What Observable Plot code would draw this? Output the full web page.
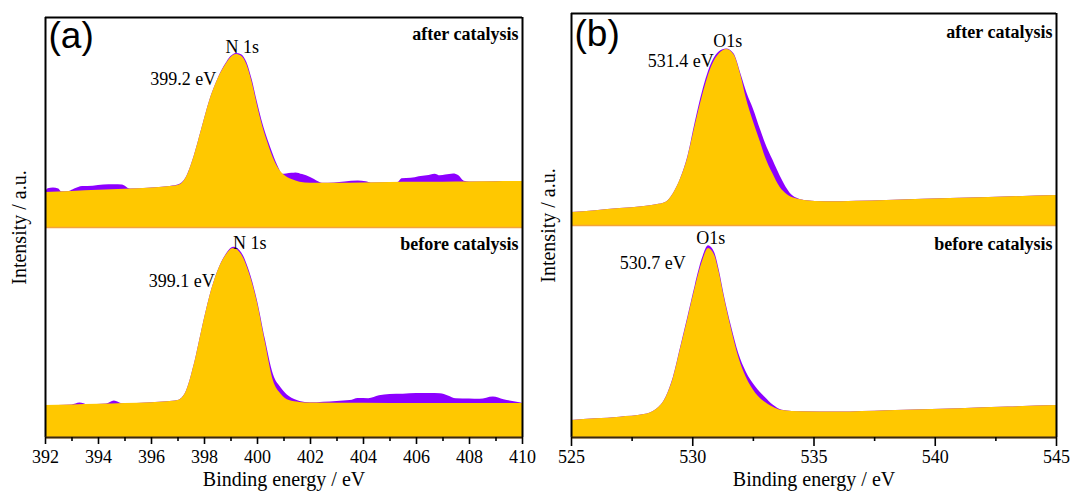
<!DOCTYPE html>
<html>
<head>
<meta charset="utf-8">
<script src="https://cdn.jsdelivr.net/npm/d3@7"></script>
<script src="https://cdn.jsdelivr.net/npm/@observablehq/plot@0.6"></script>
<style>
  body { margin: 0; background: #fff; }
  #wrap { position: relative; width: 1072px; height: 494px; overflow: hidden; background: #fff; }
  #pa, #pb { position: absolute; top: 0; }
  #pa { left: 0; }
  #pb { left: 536px; }
</style>
</head>
<body>
<div id="wrap"><div id="pa"></div><div id="pb"></div></div>
<script>
// ---------- data (binding energy eV, intensity a.u.) ----------
const panels = ["after", "before"];

const n1sTicks = [392, 394, 396, 398, 400, 402, 404, 406, 408, 410];
const n1sMinorTicks = [393, 395, 397, 399, 401, 403, 405, 407, 409];
const o1sTicks = [525, 530, 535, 540, 545];
const o1sMinorTicks = [527.5, 532.5, 537.5, 542.5];

const n1sLevel = "N 1s";
const o1sLevel = "O1s";
const n1sPeakEnergies = [399.2, 399.1];
const n1sPeakLabels = ["399.2 eV", "399.1 eV"];
const o1sPeakEnergies = [531.4, 530.7];
const o1sPeakLabels = ["531.4 eV", "530.7 eV"];

// N 1s, after catalysis
const n1sAfterRaw = [[392,16.7],[392.1,18.4],[392.3,18.8],[392.5,18.3],[392.6,17.0],[392.9,17.2],[393.1,18.3],[393.4,19.5],[393.8,19.7],[394.2,20.2],[394.6,20.3],[394.9,20.2],[395.2,18.3],[396,18.8],[396.6,19.4],[397,20.2],[397.3,23.6],[397.6,33.5],[397.9,47],[398.2,60.5],[398.5,70.5],[398.8,77.8],[399.0,81.4],[399.2,82.9],[399.4,82.3],[399.6,78.6],[399.8,70.3],[400.0,59.5],[400.2,49.5],[400.4,41.5],[400.6,34.5],[400.8,28.5],[400.95,25.4],[401.1,25.5],[401.3,25.8],[401.45,26.0],[401.7,25.2],[402.0,23.8],[402.3,21.8],[402.45,21.1],[402.9,21.2],[403.3,21.7],[403.8,22.1],[404.1,21.8],[404.3,21.2],[405.3,21.4],[405.45,23.2],[405.8,23.4],[406.1,24.2],[406.4,24.6],[406.7,25.4],[406.9,24.6],[407.1,25.0],[407.4,25.5],[407.6,24.6],[407.8,22.0],[408,21.7],[409,21.8],[410,21.9]];
const n1sAfterFit = [[392,16.7],[393,17.2],[394,17.7],[395,18.2],[396,18.8],[396.6,19.4],[397,20],[397.3,23.5],[397.6,33.5],[397.9,47],[398.2,60.5],[398.5,70.5],[398.8,77.5],[399.0,81],[399.2,82.4],[399.4,81.5],[399.6,77.5],[399.8,69],[400.0,58],[400.2,48],[400.4,40],[400.6,33],[400.8,28],[401.0,25],[401.3,22.8],[401.6,21.6],[402,21.1],[403,21.1],[404,21.2],[405,21.4],[406,21.5],[407,21.6],[408,21.7],[409,21.8],[410,21.9]];

// N 1s, before catalysis
const n1sBeforeRaw = [[392,15.2],[393.0,15.5],[393.3,16.4],[393.6,15.6],[394.3,15.9],[394.6,17.4],[394.9,16.1],[396,16.6],[396.6,17],[397,17.6],[397.3,21.5],[397.6,34],[397.9,51],[398.2,67],[398.5,79],[398.8,86.8],[399.1,90.6],[399.4,88],[399.7,79],[400.0,65],[400.3,46.5],[400.6,30],[400.9,23.5],[401.2,19.5],[401.6,17.2],[402,16.5],[402.5,16.8],[403.0,17.2],[403.5,17.6],[403.8,18.6],[404.2,18.5],[404.6,19.9],[405.0,20.5],[405.5,20.6],[406.0,21],[406.5,20.9],[406.9,20.8],[407.2,19.8],[407.5,18.4],[408.0,18.3],[408.4,18.2],[408.9,19.3],[409.3,18.0],[409.9,16.5],[410,16.2]];
const n1sBeforeFit = [[392,15.2],[393,15.5],[394,15.8],[395,16.2],[396,16.6],[396.6,17],[397,17.6],[397.3,21.5],[397.6,34],[397.9,51],[398.2,67],[398.5,79],[398.8,86.5],[399.1,90],[399.4,87],[399.7,78],[400.0,64],[400.3,45],[400.6,27],[400.9,20.5],[401.2,17.6],[401.6,16.7],[402,16.4],[404,16.3],[406,16.2],[408,16.2],[410,16.2]];

// O 1s, after catalysis
const o1sAfterRaw = [[525,6.1],[526,7.0],[527,8.0],[528,9.0],[528.5,9.8],[528.9,11],[529.2,15],[529.5,22],[529.8,32.5],[530.1,48.5],[530.4,63],[530.8,77],[531.1,82],[531.4,83.3],[531.7,81],[532.0,71],[532.25,62],[532.5,55],[532.8,45],[533.0,38.7],[533.3,31],[533.7,21.2],[534.0,15.5],[534.3,12.8],[534.6,11.8],[535.5,11.2],[538,11.8],[541,12.8],[545,14.2]];
const o1sAfterFit = [[525,6.1],[526,7.0],[527,8.0],[528,9.0],[528.5,9.8],[528.9,11],[529.2,15],[529.5,22],[529.8,32.1],[530.1,47],[530.4,61],[530.8,75.5],[531.1,81],[531.4,83],[531.7,80.5],[532.0,70],[532.2,60.4],[532.5,49],[532.8,39],[533.0,32.1],[533.3,24.5],[533.6,18],[533.9,14.5],[534.2,12.8],[534.6,11.8],[535.5,11.2],[538,11.8],[541,12.8],[545,14.2]];

// O 1s, before catalysis
const o1sBeforeRaw = [[525,8.0],[526,8.8],[527,9.6],[528,10.8],[528.5,13.2],[528.9,19],[529.2,28.3],[529.5,42.5],[529.8,56.8],[530.1,71.5],[530.4,84.5],[530.65,90.5],[530.9,87.3],[531.1,78.5],[531.3,67],[531.6,52.2],[531.9,39.5],[532.2,31],[532.6,23.8],[533.0,18.8],[533.3,15.5],[533.7,12.9],[534.5,12.1],[536,12],[538,12.6],[541,13.6],[543,14.4],[545,15.1]];
const o1sBeforeFit = [[525,8.0],[526,8.8],[527,9.6],[528,10.8],[528.5,13.2],[528.9,18.9],[529.2,28],[529.5,42],[529.8,56],[530.1,70.5],[530.4,83],[530.65,89.2],[530.9,86],[531.1,77.5],[531.3,66],[531.6,51],[531.9,37.7],[532.2,28.5],[532.6,20.8],[533.0,16.5],[533.4,13.8],[533.7,12.7],[534.5,12.1],[536,12],[538,12.6],[541,13.6],[543,14.4],[545,15.1]];

// ---------- styling ----------
const PURPLE = "#8C00FF";
const YELLOW = "#FFC800";
const ORANGE = "#F4A33A";
const SERIF = "'Liberation Serif', 'Times New Roman', serif";
const SANS = "'Liberation Sans', Arial, sans-serif";

function rowsOf(pairs, panel) {
  return pairs.map(([energy, intensity]) => ({panel, energy, intensity}));
}

function drawPanel(cfg) {
  const raw = [...rowsOf(cfg.afterRaw, "after"), ...rowsOf(cfg.beforeRaw, "before")];
  const fit = [...rowsOf(cfg.afterFit, "after"), ...rowsOf(cfg.beforeFit, "before")];
  const peaks = cfg.peakEnergies.map((energy, i) => ({
    panel: panels[i],
    energy,
    label: cfg.peakLabels[i],
    top: d3.max(i === 0 ? cfg.afterRaw : cfg.beforeRaw, d => d[1])
  }));
  const peakMarks = peaks.flatMap((p, i) => [
    Plot.text([p], {x: "energy", y: "top", fy: "panel", text: () => cfg.level,
      textAnchor: "middle", dx: cfg.levelOffsets[i][0], dy: cfg.levelOffsets[i][1], fontSize: 18}),
    Plot.text([p], {x: "energy", y: "top", fy: "panel", text: "label",
      textAnchor: "end", dx: cfg.valueOffsets[i][0], dy: cfg.valueOffsets[i][1], fontSize: 18})
  ]);
  const [x0, x1] = cfg.domain;
  return Plot.plot({
    width: 536,
    height: 494,
    marginTop: cfg.marginTop,
    marginBottom: 57,
    marginLeft: cfg.marginLeft,
    marginRight: cfg.marginRight,
    style: {fontFamily: SERIF, fontSize: "18px", color: "black", background: "white", overflow: "visible"},
    x: {domain: cfg.domain},
    y: {domain: [0, 100], axis: null},
    fy: {domain: panels, padding: 0, axis: null},
    marks: [
      Plot.areaY(raw, {x: "energy", y: "intensity", fy: "panel", fill: PURPLE, curve: "monotone-x"}),
      Plot.areaY(fit, {x: "energy", y: "intensity", fy: "panel", fill: YELLOW, curve: "monotone-x"}),
      Plot.ruleY(panels, {fy: d => d, y: () => 0, stroke: ORANGE, strokeWidth: 1.5}),
      Plot.ruleX([x0, x1], {stroke: "black", strokeWidth: 2}),
      Plot.ruleY(["after"], {fy: d => d, y: () => 100, stroke: "black", strokeWidth: 2}),
      Plot.ruleY(["before"], {fy: d => d, y: () => 0, stroke: "#3a2a10", strokeWidth: 2}),
      Plot.axisX({ticks: cfg.minorTicks, tickSize: 4, tickFormat: () => "", label: null, strokeWidth: 1.6}),
      Plot.axisX({ticks: cfg.ticks, tickSize: cfg.tickSize, tickPadding: cfg.tickPadding, tickFormat: d => `${d}`,
        label: null, fontSize: 18, strokeWidth: 1.6}),
      Plot.axisX({ticks: [], tickSize: 0, label: "Binding energy / eV", labelAnchor: "center",
        labelArrow: "none", labelOffset: 48, fontSize: 20}),
      Plot.axisFy({anchor: "left", ticks: [], tickSize: 0, label: "Intensity / a.u.", labelAnchor: "center",
        labelOffset: cfg.yLabelOffset, fontSize: 20}),
      Plot.text(panels, {fy: d => d, text: d => `${d} catalysis`, frameAnchor: "top-right", textAnchor: "end",
        lineAnchor: "top", dx: -4, dy: cfg.condDy, fontWeight: "bold", fontSize: 18}),
      Plot.text([cfg.tag], {fy: () => "after", text: d => d, frameAnchor: "top-left", textAnchor: "start",
        lineAnchor: "top", dx: 3, dy: cfg.tagDy, fontFamily: SANS, fontSize: 37}),
      ...peakMarks
    ]
  });
}

document.getElementById("pa").append(drawPanel({
  afterRaw: n1sAfterRaw, afterFit: n1sAfterFit, beforeRaw: n1sBeforeRaw, beforeFit: n1sBeforeFit,
  domain: [392, 410], ticks: n1sTicks, minorTicks: n1sMinorTicks,
  level: n1sLevel, peakEnergies: n1sPeakEnergies, peakLabels: n1sPeakLabels,
  levelOffsets: [[6, -6], [16, -4]], valueOffsets: [[-20, 26], [-19, 34]],
  marginTop: 17, marginLeft: 45, marginRight: 14, tickSize: 7, tickPadding: 6,
  yLabelOffset: 34, condDy: 10, tagDy: 4, tag: "(a)"
}));

document.getElementById("pb").append(drawPanel({
  afterRaw: o1sAfterRaw, afterFit: o1sAfterFit, beforeRaw: o1sBeforeRaw, beforeFit: o1sBeforeFit,
  domain: [525, 545], ticks: o1sTicks, minorTicks: o1sMinorTicks,
  level: o1sLevel, peakEnergies: o1sPeakEnergies, peakLabels: o1sPeakLabels,
  levelOffsets: [[1, -8], [1, -7]], valueOffsets: [[-13, 12], [-24, 18]],
  marginTop: 13, marginLeft: 35, marginRight: 16, tickSize: 9, tickPadding: 4,
  yLabelOffset: 31, condDy: 12, tagDy: 6, tag: "(b)"
}));
</script>
</body>
</html>
